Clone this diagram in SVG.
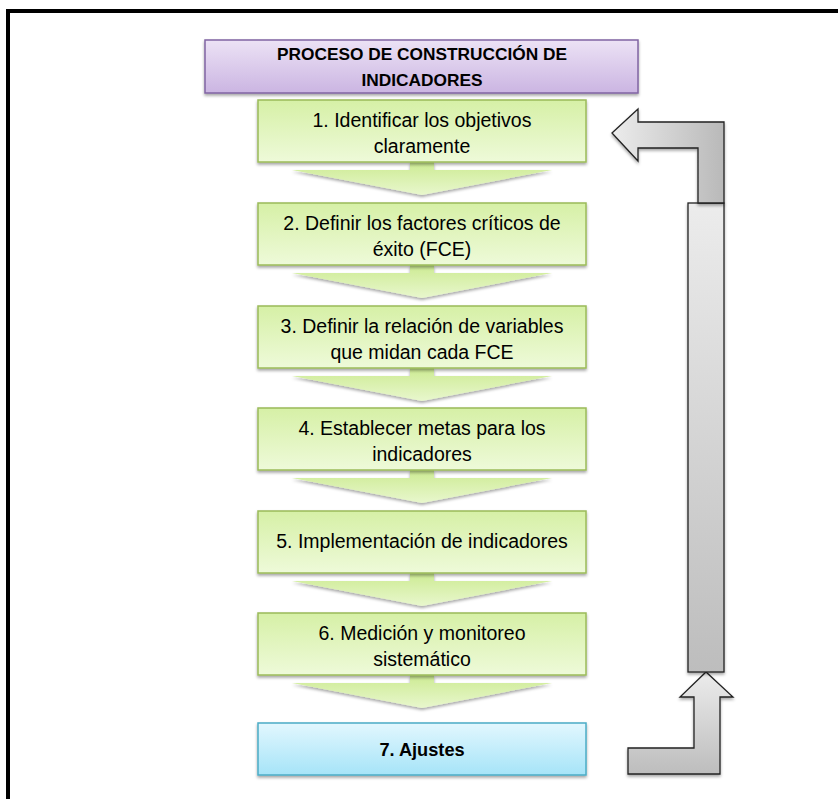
<svg xmlns="http://www.w3.org/2000/svg" width="838" height="799" viewBox="0 0 838 799">
<defs>
<linearGradient id="gGreen" x1="0" y1="0" x2="0" y2="1"><stop offset="0" stop-color="#d6f0a6"/><stop offset="1" stop-color="#eefad9"/></linearGradient>
<linearGradient id="gChev" x1="0" y1="0" x2="0" y2="1"><stop offset="0" stop-color="#cdeb93"/><stop offset="1" stop-color="#e8f7cd"/></linearGradient>
<linearGradient id="gPurple" x1="0" y1="0" x2="0" y2="1"><stop offset="0" stop-color="#ece2f5"/><stop offset="1" stop-color="#cbb5e2"/></linearGradient>
<linearGradient id="gBlue" x1="0" y1="0" x2="0" y2="1"><stop offset="0" stop-color="#e2f7fe"/><stop offset="1" stop-color="#a6e4f8"/></linearGradient>
<linearGradient id="gGrayH" x1="0" y1="0" x2="1" y2="0"><stop offset="0" stop-color="#ececec"/><stop offset="1" stop-color="#b9b9b9"/></linearGradient>
<linearGradient id="gGrayV" x1="0" y1="0" x2="0" y2="1"><stop offset="0" stop-color="#ececec"/><stop offset="1" stop-color="#bdbdbd"/></linearGradient>
<filter id="sh" x="-10%" y="-10%" width="120%" height="130%"><feDropShadow dx="0" dy="2" stdDeviation="1.5" flood-color="#000" flood-opacity="0.35"/></filter>
</defs>
<style>
.box{fill:url(#gGreen);stroke:#9bbb59;stroke-width:1.5;filter:url(#sh)}
.chev{fill:url(#gChev);stroke:none;filter:url(#sh)}
.t{font-family:"Liberation Sans",Arial,sans-serif;font-size:19.5px;fill:#000;text-anchor:middle}
.tb{font-family:"Liberation Sans",Arial,sans-serif;font-size:17.3px;font-weight:bold;fill:#000;text-anchor:middle}
.gray{stroke:#222;stroke-width:1.3;filter:url(#sh)}
</style>
<rect x="0" y="0" width="838" height="799" fill="#fff"/>
<rect x="8" y="11" width="840" height="800" fill="none" stroke="#000" stroke-width="4"/>

<g id="title">
<rect x="205" y="40" width="433" height="53" fill="url(#gPurple)" stroke="#8064a2" stroke-width="1.5" filter="url(#sh)"/>
<text class="tb" x="422" y="60">PROCESO DE CONSTRUCCIÓN DE</text>
<text class="tb" x="422" y="86">INDICADORES</text>
</g>

<g id="connectors">
<path class="chev" d="M410,162 H434 V170 H552 L422,195 L292,170 H410 Z"/>
<path class="chev" d="M410,265 H434 V273 H552 L422,298 L292,273 H410 Z"/>
<path class="chev" d="M410,368 H434 V376 H552 L422,401 L292,376 H410 Z"/>
<path class="chev" d="M410,470 H434 V478 H552 L422,503 L292,478 H410 Z"/>
<path class="chev" d="M410,573 H434 V581 H552 L422,606 L292,581 H410 Z"/>
<path class="chev" d="M410,675 H434 V683 H552 L422,708 L292,683 H410 Z"/>
<path id="upArrow" class="gray" fill="url(#gGrayV)" d="M628,748 H694 V697 H680 L706,672 L733,697 H720 V774 H628 Z"/>
<rect id="bar" class="gray" x="688" y="203" width="36" height="469" fill="url(#gGrayV)"/>
<path id="leftArrow" class="gray" fill="url(#gGrayH)" d="M612,133 L638,109 V122 H724 V203 H698 V148 H638 V161 Z"/>
</g>

<g id="n1"><rect class="box" x="258" y="100" width="328" height="62"/>
<text class="t" x="422" y="127">1. Identificar los objetivos</text><text class="t" x="422" y="153">claramente</text></g>
<g id="n2"><rect class="box" x="258" y="203" width="328" height="62"/>
<text class="t" x="422" y="230">2. Definir los factores críticos de</text><text class="t" x="422" y="256">éxito (FCE)</text></g>
<g id="n3"><rect class="box" x="258" y="306" width="328" height="62"/>
<text class="t" x="422" y="333">3. Definir la relación de variables</text><text class="t" x="422" y="359">que midan cada FCE</text></g>
<g id="n4"><rect class="box" x="258" y="408" width="328" height="62"/>
<text class="t" x="422" y="435">4. Establecer metas para los</text><text class="t" x="422" y="461">indicadores</text></g>
<g id="n5"><rect class="box" x="258" y="511" width="328" height="62"/>
<text class="t" x="422" y="548">5. Implementación de indicadores</text></g>
<g id="n6"><rect class="box" x="258" y="613" width="328" height="62"/>
<text class="t" x="422" y="640">6. Medición y monitoreo</text><text class="t" x="422" y="666">sistemático</text></g>
<g id="n7"><rect x="258" y="723" width="328" height="52" fill="url(#gBlue)" stroke="#4bacc6" stroke-width="1.5" filter="url(#sh)"/>
<text class="tb" x="422" y="756" style="font-size:18.2px">7. Ajustes</text></g>
</svg>
